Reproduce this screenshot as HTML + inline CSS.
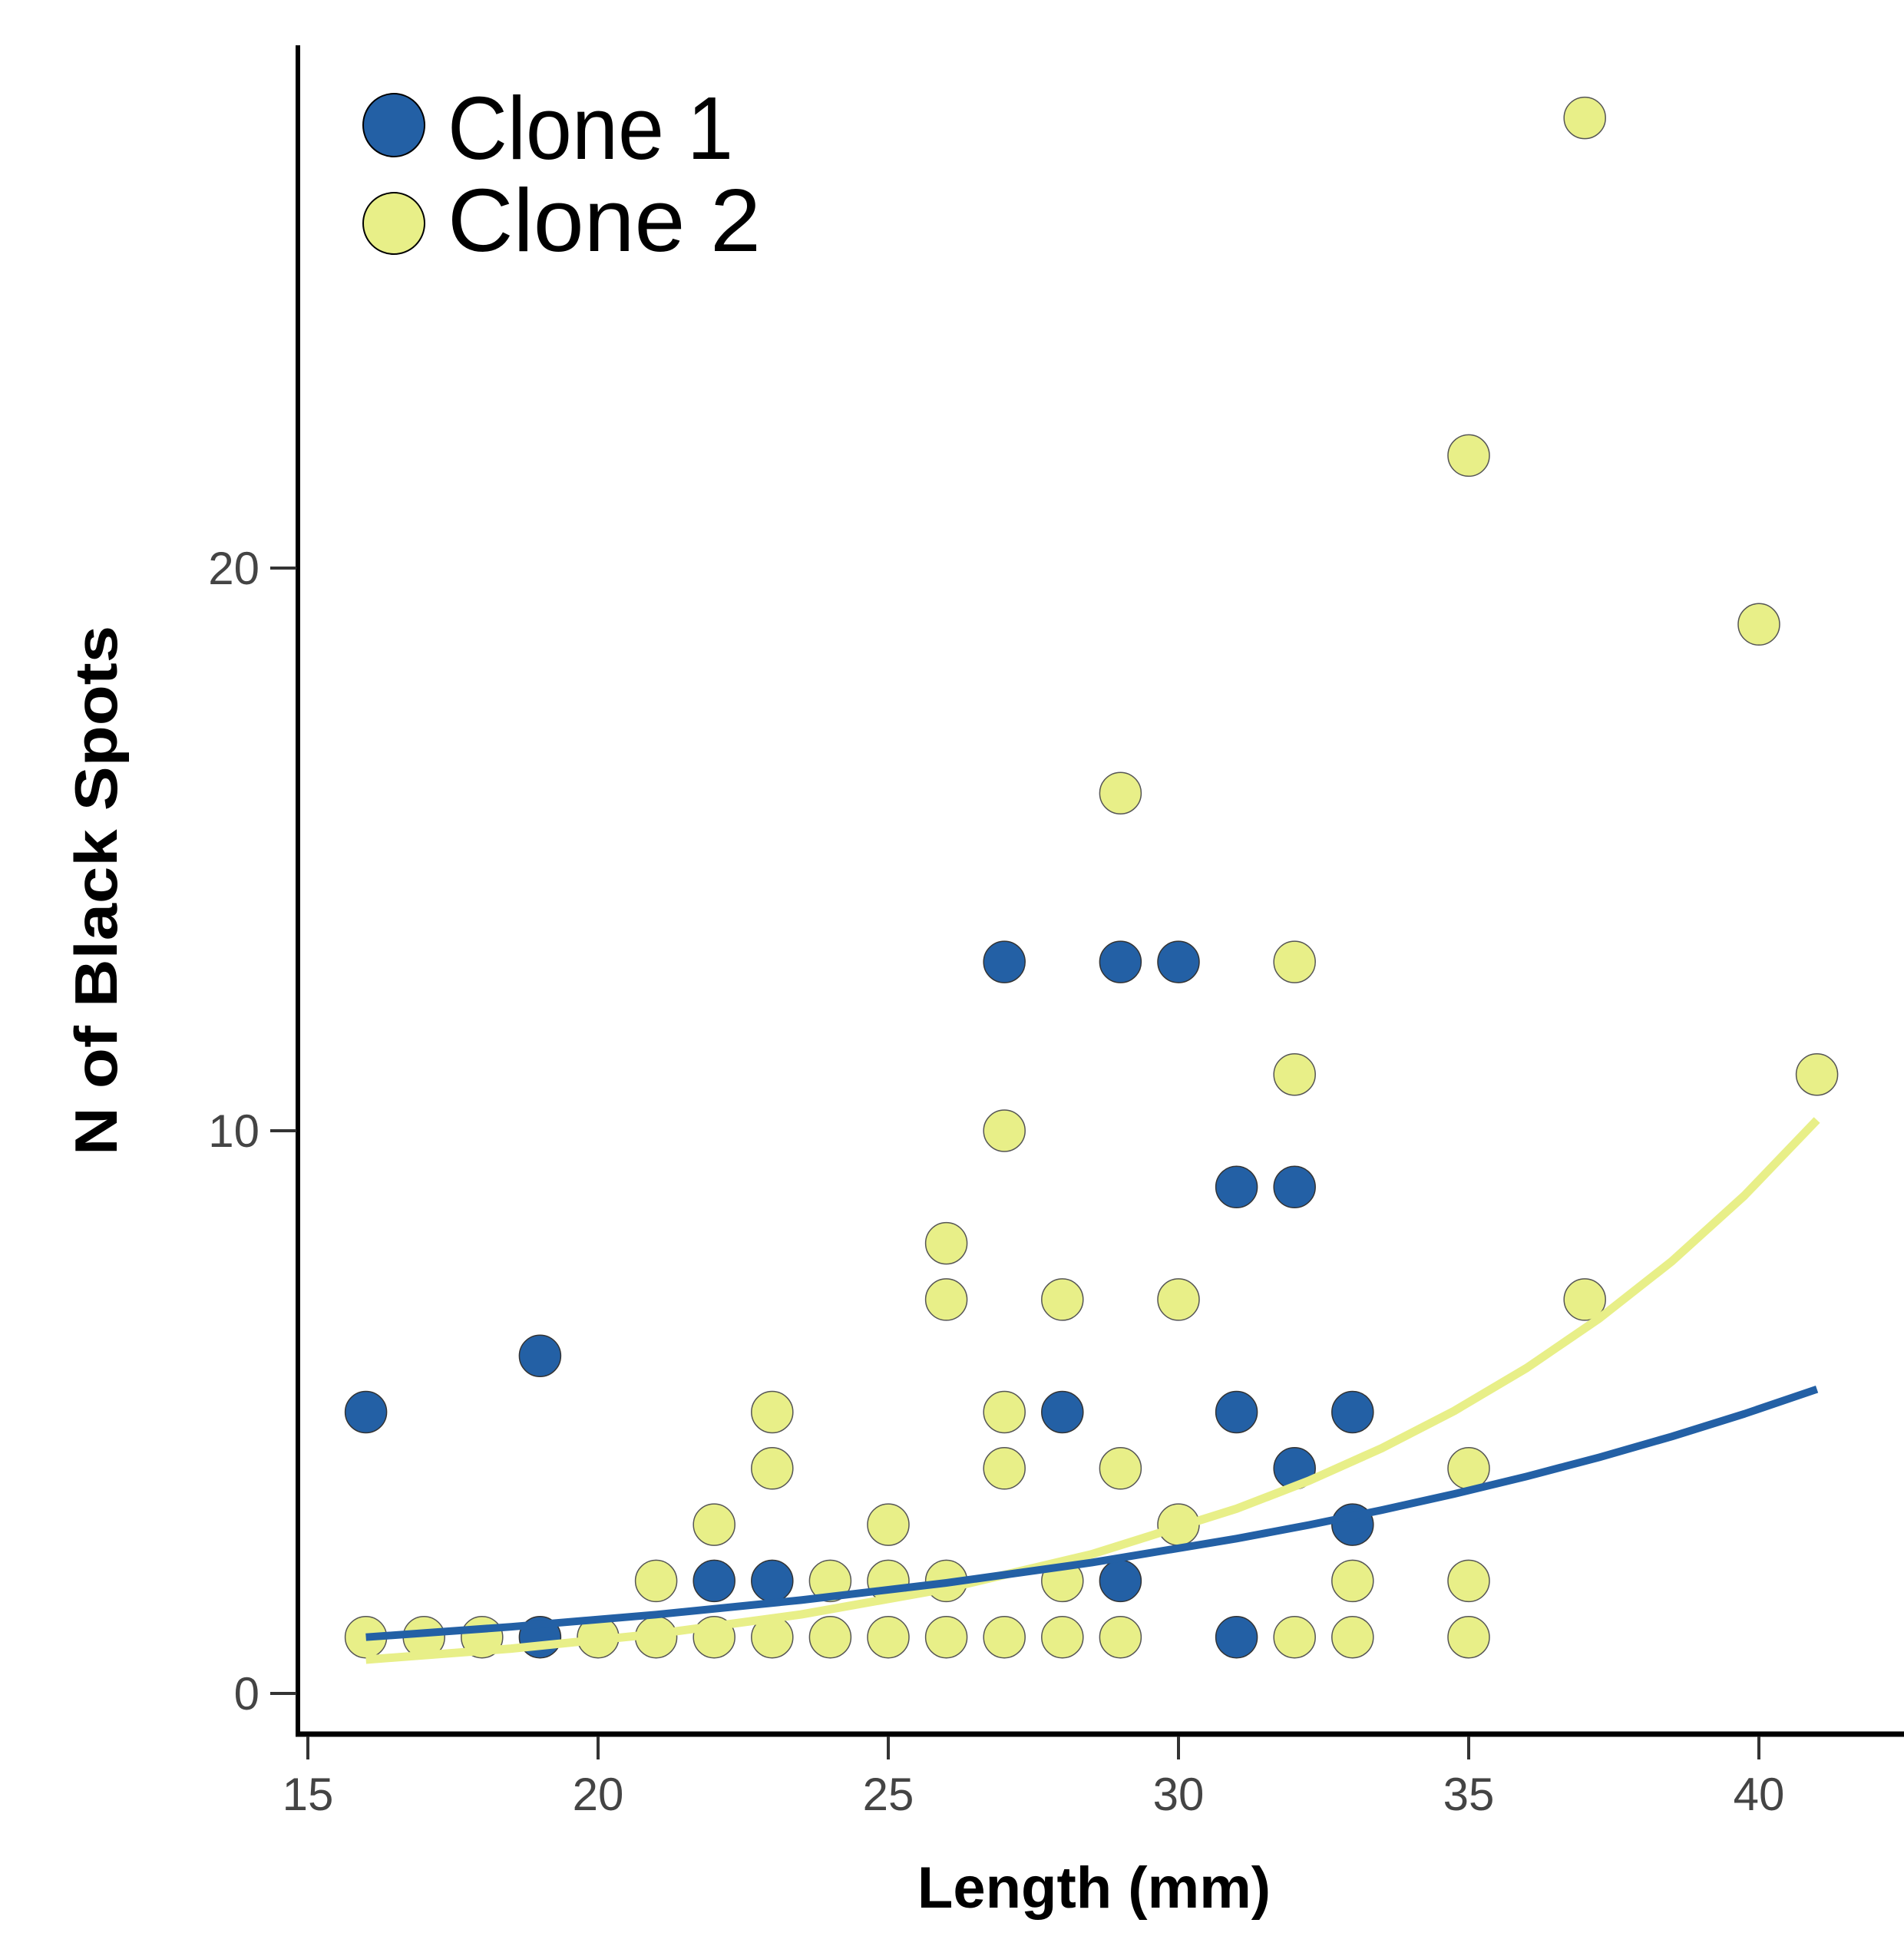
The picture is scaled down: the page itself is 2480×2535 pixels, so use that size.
<!DOCTYPE html>
<html><head><meta charset="utf-8"><style>html,body{margin:0;padding:0;background:#fff}svg{display:block}</style></head>
<body>
<svg width="2480" height="2535" viewBox="0 0 2480 2535" xmlns="http://www.w3.org/2000/svg" font-family="Liberation Sans, sans-serif">
<rect width="2480" height="2535" fill="#fff"/>
<line x1="388" y1="59" x2="388" y2="2262" stroke="#000" stroke-width="6"/>
<line x1="385" y1="2259" x2="2480" y2="2259" stroke="#000" stroke-width="7"/>
<g stroke="#333" stroke-width="4">
<line x1="401" y1="2262" x2="401" y2="2292"/><line x1="779" y1="2262" x2="779" y2="2292"/><line x1="1157" y1="2262" x2="1157" y2="2292"/><line x1="1535" y1="2262" x2="1535" y2="2292"/><line x1="1913" y1="2262" x2="1913" y2="2292"/><line x1="2291" y1="2262" x2="2291" y2="2292"/>
<line x1="352" y1="2206" x2="386" y2="2206"/><line x1="352" y1="1473" x2="386" y2="1473"/><line x1="352" y1="740" x2="386" y2="740"/>
</g>
<g fill="#444" font-size="60" text-anchor="middle">
<text x="401" y="2358">15</text><text x="779" y="2358">20</text><text x="1157" y="2358">25</text><text x="1535" y="2358">30</text><text x="1913" y="2358">35</text><text x="2291" y="2358">40</text>
</g>
<g fill="#444" font-size="60" text-anchor="end">
<text x="338" y="2227">0</text><text x="338" y="1494">10</text><text x="338" y="761">20</text>
</g>
<text x="1425" y="2485" font-size="76" font-weight="bold" text-anchor="middle" fill="#000">Length (mm)</text>
<text transform="translate(152,1160) rotate(-90)" font-size="78" font-weight="bold" text-anchor="middle" fill="#000" textLength="690" lengthAdjust="spacingAndGlyphs">N of Black Spots</text>
<g fill="#e8ef88" stroke="#555" stroke-width="1.5">
<circle cx="476.6" cy="2132.7" r="27"/><circle cx="552.2" cy="2132.7" r="27"/><circle cx="627.8" cy="2132.7" r="27"/><circle cx="779" cy="2132.7" r="27"/>
<circle cx="854.6" cy="2132.7" r="27"/><circle cx="854.6" cy="2059.4" r="27"/>
<circle cx="930.2" cy="2132.7" r="27"/><circle cx="930.2" cy="1986.1" r="27"/>
<circle cx="1005.8" cy="2132.7" r="27"/><circle cx="1005.8" cy="1912.8" r="27"/><circle cx="1005.8" cy="1839.5" r="27"/>
<circle cx="1081.4" cy="2132.7" r="27"/><circle cx="1081.4" cy="2059.4" r="27"/>
<circle cx="1157" cy="2132.7" r="27"/><circle cx="1157" cy="2059.4" r="27"/><circle cx="1157" cy="1986.1" r="27"/>
<circle cx="1232.6" cy="2132.7" r="27"/><circle cx="1232.6" cy="2059.4" r="27"/><circle cx="1232.6" cy="1692.9" r="27"/><circle cx="1232.6" cy="1619.6" r="27"/>
<circle cx="1308.2" cy="2132.7" r="27"/><circle cx="1308.2" cy="1912.8" r="27"/><circle cx="1308.2" cy="1839.5" r="27"/><circle cx="1308.2" cy="1473" r="27"/>
<circle cx="1383.8" cy="2132.7" r="27"/><circle cx="1383.8" cy="2059.4" r="27"/><circle cx="1383.8" cy="1692.9" r="27"/>
<circle cx="1459.4" cy="2132.7" r="27"/><circle cx="1459.4" cy="1912.8" r="27"/><circle cx="1459.4" cy="1033.2" r="27"/>
<circle cx="1535" cy="1986.1" r="27"/><circle cx="1535" cy="1692.9" r="27"/>
<circle cx="1686.2" cy="2132.7" r="27"/><circle cx="1686.2" cy="1399.7" r="27"/><circle cx="1686.2" cy="1253.1" r="27"/>
<circle cx="1761.8" cy="2132.7" r="27"/><circle cx="1761.8" cy="2059.4" r="27"/>
<circle cx="1913" cy="2132.7" r="27"/><circle cx="1913" cy="2059.4" r="27"/><circle cx="1913" cy="1912.8" r="27"/><circle cx="1913" cy="593.4" r="27"/>
<circle cx="2064.2" cy="1692.9" r="27"/><circle cx="2064.2" cy="153.6" r="27"/>
<circle cx="2291" cy="813.3" r="27"/><circle cx="2366.6" cy="1399.7" r="27"/>
</g>
<g fill="#2360a5" stroke="#333" stroke-width="1.5">
<circle cx="476.6" cy="1839.5" r="27"/><circle cx="703.4" cy="1766.2" r="27"/><circle cx="703.4" cy="2132.7" r="27"/>
<circle cx="930.2" cy="2059.4" r="27"/><circle cx="1005.8" cy="2059.4" r="27"/>
<circle cx="1308.2" cy="1253.1" r="27"/><circle cx="1383.8" cy="1839.5" r="27"/>
<circle cx="1459.4" cy="1253.1" r="27"/><circle cx="1459.4" cy="2059.4" r="27"/><circle cx="1535" cy="1253.1" r="27"/>
<circle cx="1610.6" cy="1546.3" r="27"/><circle cx="1610.6" cy="1839.5" r="27"/><circle cx="1610.6" cy="2132.7" r="27"/>
<circle cx="1686.2" cy="1546.3" r="27"/><circle cx="1686.2" cy="1912.8" r="27"/>
<circle cx="1761.8" cy="1839.5" r="27"/><circle cx="1761.8" cy="1986.1" r="27"/>
</g>
<polyline fill="none" stroke="#e8ef88" stroke-width="11" stroke-linejoin="round" points="476.6,2162 665.6,2147.6 854.6,2128.5 1043.6,2103.1 1232.6,2069.4 1421.6,2024.7 1610.6,1965.4 1705.1,1928.9 1799.6,1886.6 1894.1,1838 1988.6,1782 2083.1,1717.4 2177.6,1643.1 2272.1,1557.5 2366.6,1459"/>
<polyline fill="none" stroke="#2360a5" stroke-width="10" stroke-linejoin="round" points="476.6,2132.7 665.6,2119.2 854.6,2103.3 1043.6,2084.4 1232.6,2062 1421.6,2035.6 1610.6,2004.3 1705.1,1986.5 1799.6,1967.2 1894.1,1946.1 1988.6,1923.3 2083.1,1898.4 2177.6,1871.3 2272.1,1841.8 2366.6,1809.7"/>
<ellipse cx="513" cy="163" rx="40" ry="41" fill="#2360a5" stroke="#000" stroke-width="2"/>
<ellipse cx="513" cy="291" rx="40" ry="40" fill="#e8ef88" stroke="#000" stroke-width="2"/>
<text x="583" y="207" font-size="116" fill="#000" textLength="372" lengthAdjust="spacingAndGlyphs">Clone 1</text>
<text x="583" y="327" font-size="116" fill="#000" textLength="408" lengthAdjust="spacingAndGlyphs">Clone 2</text>
</svg>
</body></html>
